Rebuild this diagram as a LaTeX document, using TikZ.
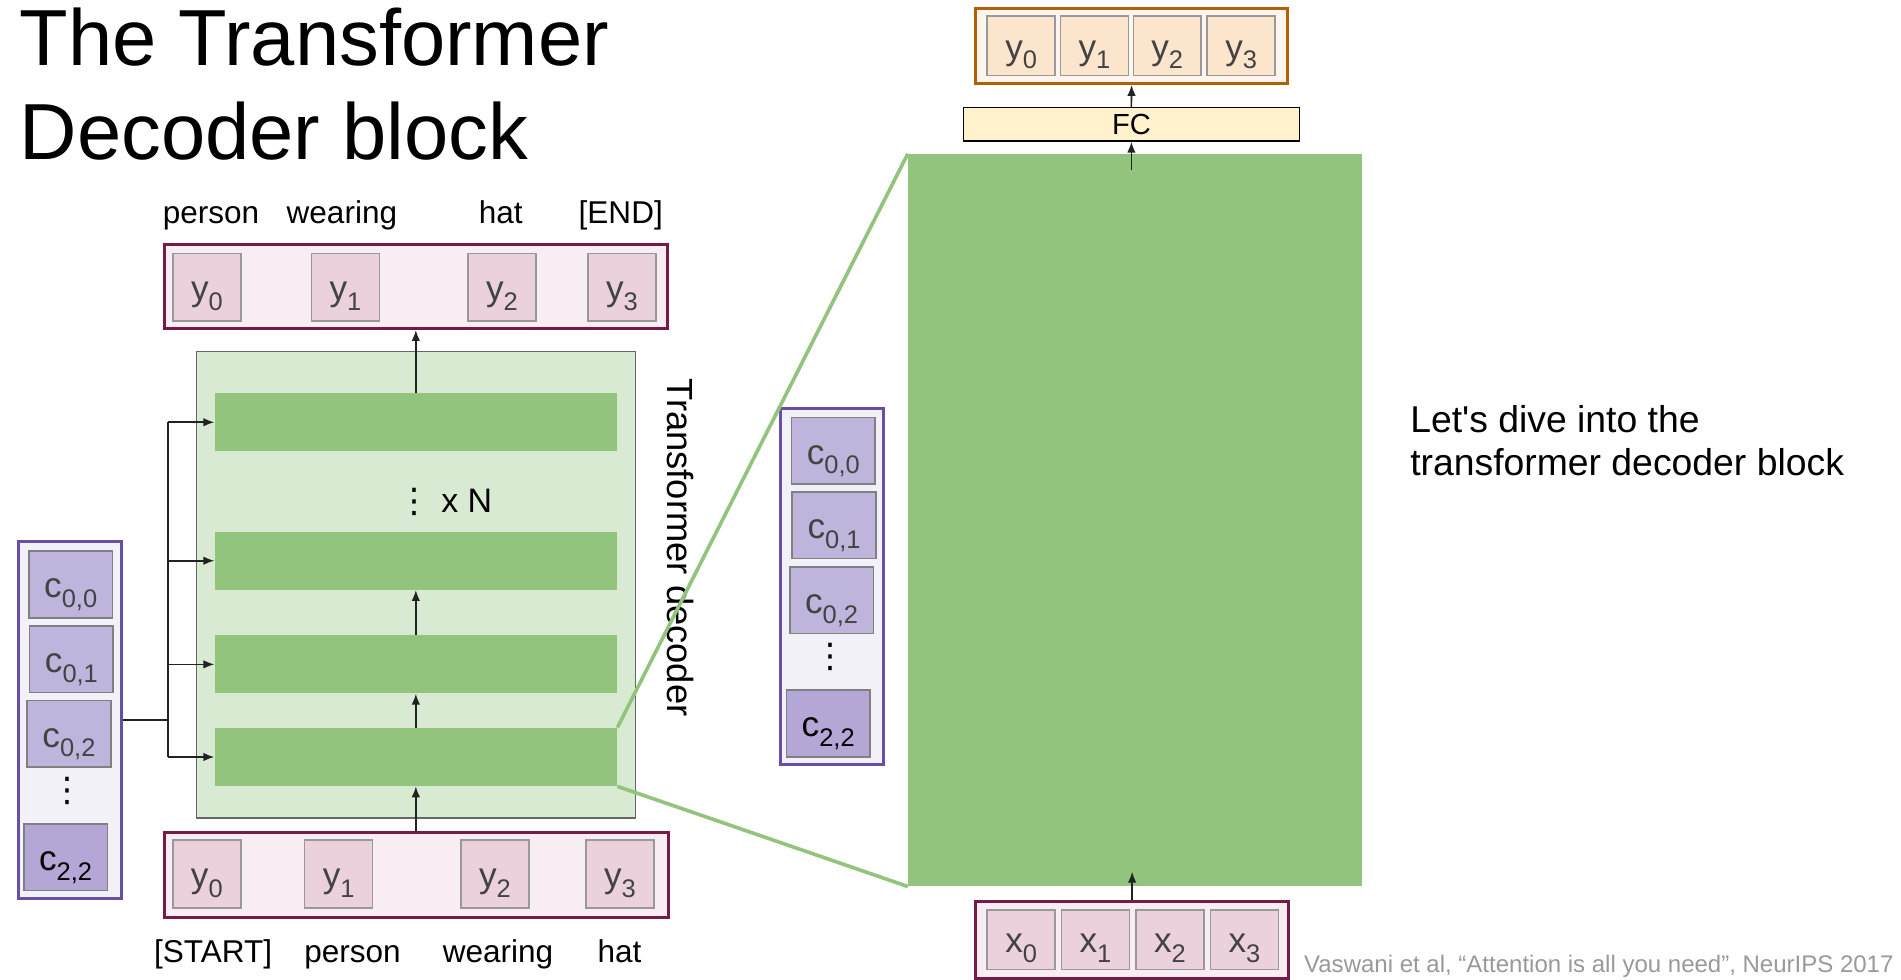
\documentclass[tikz,border=0pt]{standalone}
\usepackage{fontspec}
\setmainfont{Liberation Sans}[Ligatures=TeXOff]
\newfontfamily\dejavu{DejaVu Sans}
\usetikzlibrary{arrows.meta}

\definecolor{barGreen}{HTML}{93C47D}
\definecolor{decGreen}{HTML}{D9EAD3}
\definecolor{decEdge}{HTML}{666666}
\definecolor{rowEdge}{HTML}{741B47}
\definecolor{rowFill}{HTML}{F8EDF3}
\definecolor{tokFill}{HTML}{EAD1DC}
\definecolor{tokEdge}{HTML}{999999}
\definecolor{ctxEdge}{HTML}{674EA7}
\definecolor{ctxFill}{HTML}{F3F1F8}
\definecolor{ctxTok}{HTML}{BEB4DC}
\definecolor{ctxLast}{HTML}{B4A7D6}
\definecolor{outEdge}{HTML}{B45F06}
\definecolor{outFill}{HTML}{FDF5EE}
\definecolor{outTok}{HTML}{FCE5CD}
\definecolor{fcFill}{HTML}{FFF2CC}
\definecolor{labelGray}{HTML}{434343}
\definecolor{citeGray}{HTML}{999999}
\definecolor{wireGray}{HTML}{222222}

% letter with a lowered index, as in the slide
\newcommand{\tokl}[2]{#1\raisebox{-8pt}{\fontsize{21}{21}\selectfont #2}}

\tikzset{
  row/.style={draw=rowEdge, line width=2.5pt, fill=rowFill, inner sep=0pt},
  tok/.style={draw=tokEdge, line width=1.3pt, fill=tokFill, inner sep=0pt,
    minimum width=56pt, minimum height=56pt, text=labelGray,
    text height=24pt, text depth=2pt,
    font=\fontsize{29}{29}\selectfont},
  ctx/.style={draw=ctxEdge, line width=2.5pt, fill=ctxFill, inner sep=0pt,
    minimum width=85pt, minimum height=294pt},
  ctxtok/.style={tok, draw=gray, fill=ctxTok, minimum width=69pt, minimum height=55pt},
  bar/.style={fill=barGreen, inner sep=0pt, minimum width=332pt, minimum height=48pt},
  word/.style={anchor=base, inner sep=0pt, font=\fontsize{26}{26}\selectfont},
  wire/.style={draw=wireGray, line width=1.3pt},
  zoomline/.style={draw=barGreen, line width=3pt},
  vdots/.style={inner sep=0pt, font=\dejavu\fontsize{28}{28}\selectfont}
}

\begin{document}
\begin{tikzpicture}[x=1pt, y=-1pt, >={Latex[length=9pt,width=7pt]}]
    \useasboundingbox (0,0) rectangle (1568,808);
    % Title
    \node[anchor=north west, inner sep=0pt, align=left,
      font=\fontsize{65.6}{78}\selectfont] (title) at (16,6.2) {The Transformer\\Decoder block};

    % Decoder stack
    \node[draw=decEdge, line width=1.3pt, fill=decGreen, inner sep=0pt,
      minimum width=362pt, minimum height=384.5pt] (dec) at (343,482.25) {};
    \node[bar] (bar1) at (343,348.3) {};
    \node[bar] (bar2) at (343,462.5) {};
    \node[bar] (bar3) at (343,548) {};
    \node[bar] (bar4) at (343,624.4) {};
    \node[anchor=base west, inner sep=0pt, font=\fontsize{28}{28}\selectfont]
      (reps) at (328,423) {{\dejavu ⋮} x N};
    \node[rotate=-90, inner sep=0pt, font=\fontsize{30}{30}\selectfont]
      (declabel) at (561,451.5) {Transformer decoder};

    % Output words
    \node[row, minimum width=415pt, minimum height=69pt] (toprow) at (343,236.5) {};
    \foreach \i/\x in {0/170.7, 1/285, 2/414, 3/513}
      \node[tok] (ty\i) at (\x,237) {\tokl{y}{\i}};
    \node[word] (wt0) at (174,184) {person};
    \node[word] (wt1) at (282,184) {wearing};
    \node[word] (wt2) at (413,184) {hat};
    \node[word] (wt3) at (512,184) {[END]};

    % Input words
    \node[row, minimum width=415pt, minimum height=70pt] (botrow) at (343.5,722) {};
    \foreach \i/\x in {0/170.6, 1/279.3, 2/408.3, 3/511.3}
      \node[tok] (by\i) at (\x,720.9) {\tokl{y}{\i}};
    \node[word] (wb0) at (175.8,794) {[START]};
    \node[word] (wb1) at (290.7,794) {person};
    \node[word] (wb2) at (410.8,794) {wearing};
    \node[word] (wb3) at (511,794) {hat};

    % Flow through the stack
    \draw[wire,->] (bar1.north) -- (toprow.south);
    \draw[wire,->] (bar3.north) -- (bar2.south);
    \draw[wire,->] (bar4.north) -- (bar3.south);
    \draw[wire,->] (bar4.south |- botrow.north) -- (bar4.south);

    % Context columns (left one, and its copy beside the block)
    \foreach \c/\dx/\dy in {L/0/0, R/629/-110.3}{
      \begin{scope}[shift={(\dx,\dy)}]
        \node[ctx] (col\c) at (57.4,594) {};
        \node[ctxtok] (c00\c) at (58.3,482.2) {\tokl{c}{0,0}};
        \node[ctxtok] (c01\c) at (58.9,543.6) {\tokl{c}{0,1}};
        \node[ctxtok] (c02\c) at (56.9,605.3) {\tokl{c}{0,2}};
        \node[vdots] (cdots\c) at (56,652) {⋮};
        \node[ctxtok, fill=ctxLast, text=black] (c22\c) at (54.1,707) {\tokl{c}{2,2}};
      \end{scope}
    }

    % Context into every layer
    \coordinate (split) at (138.4,594);
    \draw[wire] (colL.east) -- (split);
    \draw[wire] (split |- bar1.west) -- (split |- bar4.west);
    \foreach \b in {1,...,4}
      \draw[wire,->] (split |- bar\b.west) -- (bar\b.west);

    % Zoomed block
    \node[fill=barGreen, inner sep=0pt, minimum width=374pt, minimum height=604pt]
      (block) at (936,429) {};
    \draw[zoomline] (bar4.north east) -- (block.north west);
    \draw[zoomline] (bar4.south east) -- (block.south west);

    \node[draw=black, line width=1.3pt, fill=fcFill, inner sep=0pt,
      minimum width=277pt, minimum height=27.5pt,
      font=\fontsize{24}{24}\selectfont] (fc) at (933.2,102.5) {FC};
    \node[row, draw=outEdge, fill=outFill, minimum width=257pt, minimum height=62pt]
      (outrow) at (933.4,37.8) {};
    \foreach \i/\x in {0/842.3, 1/902.7, 2/962.8, 3/1023.7}
      \node[tok, fill=outTok, minimum height=49pt] (oy\i) at (\x,37.8) {\tokl{y}{\i}};

    \node[row, minimum width=257.6pt, minimum height=63.3pt] (xrow) at (933.8,775.4) {};
    \foreach \i/\x in {0/842.3, 1/903.6, 2/965, 3/1026.5}
      \node[tok, minimum height=49pt] (x\i) at (\x,775) {\tokl{x}{\i}};

    \coordinate (blockTop) at (933.2,140);
    \coordinate (blockBot) at (933.8,719);
    \draw[wire,->] (blockTop) -- (fc.south);
    \draw[wire,->] (fc.north) -- (outrow.south);
    \draw[wire,->] (xrow.north) -- (blockBot);

    % Notes
    \node[anchor=north west, inner sep=0pt, align=left,
      font=\fontsize{30.8}{35.5}\selectfont] (note) at (1163,334)
      {Let's dive into the\\transformer decoder block};
    \node[anchor=base west, inner sep=0pt, text=citeGray,
      font=\fontsize{19.8}{20}\selectfont] (cite) at (1075.5,802)
      {Vaswani et al, “Attention is all you need”, NeurIPS 2017};
\end{tikzpicture}
\end{document}
